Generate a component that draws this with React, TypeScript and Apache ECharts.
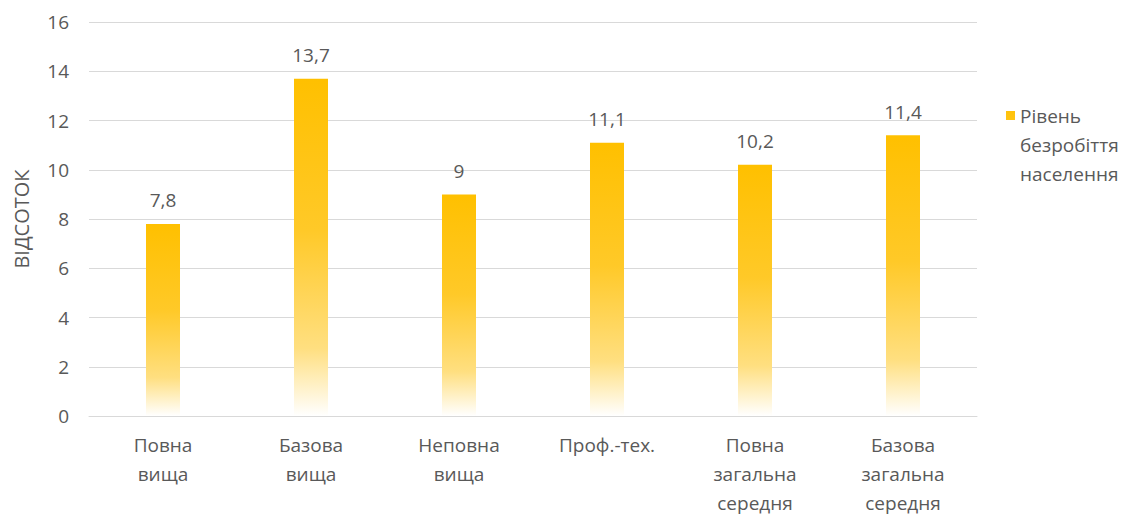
import React, { useEffect, useRef } from "react";
import * as echarts from "echarts";

const categories = [
  "Повна\nвища",
  "Базова\nвища",
  "Неповна\nвища",
  "Проф.-тех.",
  "Повна\nзагальна\nсередня",
  "Базова\nзагальна\nсередня",
];
const values = [7.8, 13.7, 9, 11.1, 10.2, 11.4];
const seriesName = "Рівень\nбезробіття\nнаселення";
const yAxisName = "ВІДСОТОК";

export default function App() {
  const ref = useRef<HTMLDivElement>(null);
  useEffect(() => {
    const chart = echarts.init(ref.current!, undefined, { renderer: "svg" });
    const font = "'Open Sans', 'Noto Sans', sans-serif";
    const fs = 19;
    chart.setOption({
      animation: false,
      textStyle: { fontFamily: font },
      grid: {
        left: 89,
        right: 151,
        top: 22,
        bottom: 99,
        containLabel: false,
        outerBoundsMode: "none",
      },
      legend: {
        left: 1001,
        top: 96,
        orient: "vertical",
        icon: "path://M0,0h0.01v0.01h-0.01z M0,10h9v9h-9z M0,87h0.01v0.01h-0.01z",
        itemWidth: 9,
        itemHeight: 87,
        itemGap: 6,
        textStyle: { fontSize: fs, color: "#595959", lineHeight: 29, fontFamily: font },
        data: [seriesName],
      },
      xAxis: {
        type: "category",
        data: categories,
        axisLine: { lineStyle: { color: "#D9D9D9" } },
        axisTick: { show: false },
        axisLabel: {
          color: "#595959",
          fontSize: fs,
          lineHeight: 29,
          margin: 14,
          interval: 0,
          fontFamily: font,
        },
      },
      yAxis: {
        type: "value",
        min: 0,
        max: 16,
        interval: 2,
        name: yAxisName,
        nameLocation: "middle",
        nameGap: 58,
        nameTextStyle: { color: "#595959", fontSize: 20, fontFamily: font },
        axisLine: { show: false },
        axisTick: { show: false },
        axisLabel: { color: "#595959", fontSize: fs, margin: 20, fontFamily: font },
        splitLine: { lineStyle: { color: "#D9D9D9", width: 1 } },
      },
      series: [
        {
          name: seriesName,
          type: "bar",
          data: values,
          barWidth: 34,
          itemStyle: {
            color: new echarts.graphic.LinearGradient(0, 0, 0, 1, [
              { offset: 0, color: "#FFC000" },
              { offset: 0.45, color: "#FFC928" },
              { offset: 0.8, color: "#FFDF80" },
              { offset: 1, color: "#FFFFFF" },
            ]),
          },
          label: {
            show: true,
            position: "top",
            distance: 14,
            color: "#595959",
            fontSize: fs,
            fontFamily: font,
            formatter: (p: any) => String(p.value).replace(".", ","),
          },
        },
      ],
    });
    return () => chart.dispose();
  }, []);
  return (
    <div
      ref={ref}
      style={{ position: "fixed", left: 0, top: 0, width: 1128, height: 515, background: "#fff" }}
    />
  );
}
